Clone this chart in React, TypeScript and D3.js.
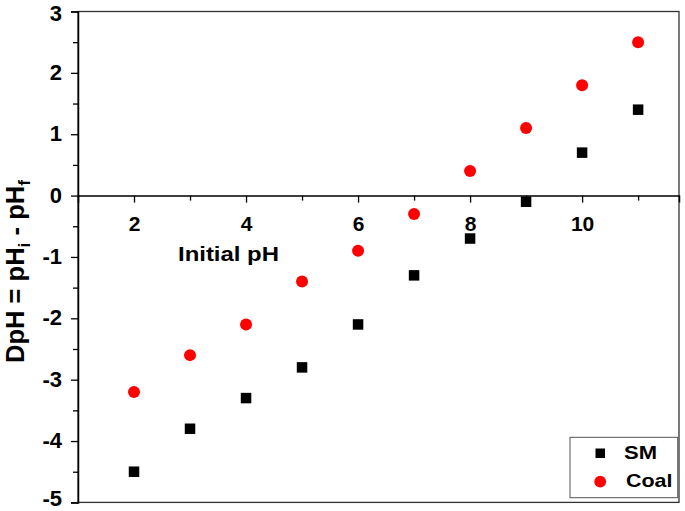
import { useEffect, useRef } from "react";
import * as d3 from "d3";

// initial pH values
const initialPH = [2, 3, 4, 5, 6, 7, 8, 9, 10, 11];
// DpH for each series
const smValues = [-4.5, -3.8, -3.3, -2.8, -2.1, -1.3, -0.7, -0.1, 0.7, 1.4];
const coalValues = [-3.2, -2.6, -2.1, -1.4, -0.9, -0.3, 0.4, 1.1, 1.8, 2.5];
const xTickLabels = [2, 4, 6, 8, 10];
const xMinorTicks = [3, 5, 7, 9, 11];
const yTickLabels = [-5, -4, -3, -2, -1, 0, 1, 2, 3];
const yMinorTicks = [-4.5, -3.5, -2.5, -1.5, -0.5, 0.5, 1.5, 2.5];

const W = 685;
const H = 511;
const margin = { top: 11.5, right: 6, bottom: 8.6, left: 78 };

export default function App() {
  const ref = useRef<SVGSVGElement | null>(null);

  useEffect(() => {
    if (!ref.current) return;
    const svg = d3.select(ref.current);
    svg.selectAll("*").remove();

    const font = "Arial, 'Liberation Sans', sans-serif";
    const xMax = 11.73;

    const x = d3.scaleLinear().domain([1, xMax]).range([margin.left, W - margin.right]);
    const y = d3.scaleLinear().domain([-5, 3]).range([H - margin.bottom, margin.top]);

    // frame (top, right, bottom)
    svg.append("rect")
      .attr("x", x(1)).attr("y", y(3))
      .attr("width", x(xMax) - x(1)).attr("height", y(-5) - y(3))
      .attr("fill", "none").attr("stroke", "#333").attr("stroke-width", 1.3);

    // y axis
    const yAxis = svg.append("g")
      .attr("transform", `translate(${x(1)},0)`)
      .call(d3.axisLeft(y).tickValues(yTickLabels).tickSize(7).tickPadding(9).tickFormat((d) => String(d)));
    yAxis.select(".domain").attr("stroke", "#000").attr("stroke-width", 1.5);
    yAxis.selectAll("line").attr("stroke-width", 1.3);
    yAxis.selectAll("text")
      // keep the end labels inside the picture
      .attr("dy", (d) => (d === 3 ? "0.42em" : d === -5 ? "0.16em" : "0.3em"))
      .style("font-family", font).style("font-weight", "bold").style("font-size", "22px").attr("fill", "#000");
    svg.append("g")
      .attr("transform", `translate(${x(1)},0)`)
      .call(d3.axisLeft(y).tickValues(yMinorTicks).tickSize(5).tickFormat(() => ""))
      .call((g) => g.select(".domain").remove())
      .selectAll("line").attr("stroke-width", 1.3);

    // x axis at y = 0
    const xAxis = svg.append("g")
      .attr("transform", `translate(0,${y(0)})`)
      .call(d3.axisBottom(x).tickValues(xTickLabels).tickSize(7).tickPadding(14).tickFormat((d) => String(d)));
    xAxis.select(".domain").attr("stroke", "#000").attr("stroke-width", 1.5);
    xAxis.selectAll("line").attr("stroke-width", 1.3);
    xAxis.selectAll("text")
      .style("font-family", font).style("font-weight", "bold").style("font-size", "21px").attr("fill", "#000");
    svg.append("g")
      .attr("transform", `translate(0,${y(0)})`)
      .call(d3.axisBottom(x).tickValues(xMinorTicks).tickSize(5).tickFormat(() => ""))
      .call((g) => g.select(".domain").remove())
      .selectAll("line").attr("stroke-width", 1.3);

    // x axis title
    svg.append("text")
      .attr("x", 178).attr("y", 261)
      .attr("textLength", 101).attr("lengthAdjust", "spacingAndGlyphs")
      .style("font-family", font).style("font-weight", "bold").style("font-size", "20.5px")
      .text("Initial pH");

    // y axis title
    const yt = svg.append("text")
      .attr("transform", `translate(23.5,${363}) rotate(-90)`)
      .attr("textLength", 183).attr("lengthAdjust", "spacingAndGlyphs")
      .style("font-family", font).style("font-weight", "bold").style("font-size", "25px");
    yt.append("tspan").text("DpH = pH");
    yt.append("tspan").attr("dy", 6).style("font-size", "17px").text("i");
    yt.append("tspan").attr("dy", -6).text(" - pH");
    yt.append("tspan").attr("dy", 6).style("font-size", "17px").text("f");

    // SM squares
    const sq = 10.5;
    svg.append("g").selectAll("rect")
      .data(initialPH)
      .join("rect")
      .attr("x", (d) => x(d) - sq / 2)
      .attr("y", (_, i) => y(smValues[i]) - sq / 2)
      .attr("width", sq).attr("height", sq)
      .attr("fill", "#000");

    // Coal circles
    svg.append("g").selectAll("circle")
      .data(initialPH)
      .join("circle")
      .attr("cx", (d) => x(d))
      .attr("cy", (_, i) => y(coalValues[i]))
      .attr("r", 6)
      .attr("fill", "#ff0000");

    // legend
    const lg = svg.append("g");
    lg.append("rect")
      .attr("x", 570).attr("y", 437.3).attr("width", 107.7).attr("height", 60.4)
      .attr("fill", "#fff").attr("stroke", "#555").attr("stroke-width", 1);
    lg.append("rect").attr("x", 595.5).attr("y", 448.5).attr("width", 9.5).attr("height", 9.5).attr("fill", "#000");
    lg.append("circle").attr("cx", 600.2).attr("cy", 481.7).attr("r", 5.9).attr("fill", "#ff0000");
    lg.append("text").attr("x", 624).attr("y", 459.3)
      .attr("textLength", 33).attr("lengthAdjust", "spacingAndGlyphs")
      .style("font-family", font).style("font-weight", "bold").style("font-size", "18.5px").text("SM");
    lg.append("text").attr("x", 626).attr("y", 486.7)
      .attr("textLength", 46.5).attr("lengthAdjust", "spacingAndGlyphs")
      .style("font-family", font).style("font-weight", "bold").style("font-size", "18.5px").text("Coal");
  }, []);

  return (
    <div style={{ position: "absolute", left: 0, top: 0 }}>
      <svg ref={ref} width={W} height={H} style={{ display: "block", background: "#fff" }} />
    </div>
  );
}
